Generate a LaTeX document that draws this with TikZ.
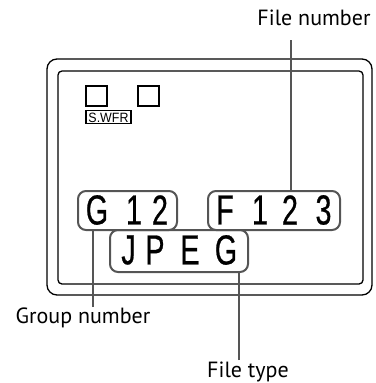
\documentclass[tikz,border=0pt]{standalone}
\usepackage{fontspec}
\setmainfont{PT Sans}
\newfontfamily\lcdfont[FakeStretch=0.68,FakeBold=0.6]{Liberation Sans}
\newfontfamily\smallfont[FakeStretch=0.92]{Liberation Sans}
\definecolor{lcdgray}{RGB}{85,85,85}
\begin{document}
\begin{tikzpicture}[x=1pt,y=-1pt,
  lbl/.style={font=\fontsize{22}{26}\selectfont, inner sep=0},
  lcd/.style={font=\lcdfont\fontsize{42}{42}\selectfont, inner sep=0},
  segbox/.style={draw=lcdgray, line width=2, rounded corners=8, inner sep=0},
  leader/.style={draw=lcdgray, line width=2},
  frame/.style={draw=black, line width=1.3},
  sq/.style={draw=black, line width=1.1, inner sep=0}
]
\useasboundingbox (0,0) rectangle (375,383);
% casing
\draw[frame, rounded corners=10] (47,59) rectangle (372,295);
\draw[frame, rounded corners=4] (58,71) rectangle (363,284);
% indicators
\node[sq, minimum width=21, minimum height=20] (sqa) at (96.5,96) {};
\node[sq, minimum width=21, minimum height=20] (sqb) at (148.5,96) {};
\node[sq, minimum width=45, minimum height=13] (swfr) at (108.5,117) {};
\node[inner sep=0, font=\smallfont\fontsize{13.5}{13.5}\selectfont] (swfrt) at (108.5,117.5) {S.WFR};
% segment boxes
\node[segbox, minimum width=99, minimum height=39] (gbox) at (127.5,210.5) {};
\node[segbox, minimum width=132, minimum height=39] (fbox) at (274,210.5) {};
\node[segbox, minimum width=138, minimum height=42] (jbox) at (179,251) {};
% characters
\node[lcd] (g1) at (97,210) {G};
\node[lcd] (g2) at (134,210) {1};
\node[lcd] (g3) at (160,210) {2};
\node[lcd] (f1) at (225,210) {F};
\node[lcd] (f2) at (260,210) {1};
\node[lcd] (f3) at (290,210) {2};
\node[lcd] (f4) at (323.5,210) {3};
\node[lcd] (j1) at (128.5,250) {J};
\node[lcd] (j2) at (155,250) {P};
\node[lcd] (j3) at (190,250) {E};
\node[lcd] (j4) at (226,250) {G};
% labels
\node[lbl] (lfn) at (314,18) {File number};
\node[lbl] (lgn) at (83,318) {Group number};
\node[lbl] (lft) at (248,372) {File type};
\coordinate (cfn) at (291,40);
\coordinate (cgn) at (93,307);
\coordinate (cft) at (239,360);
\draw[leader] (cfn) -- (cfn |- fbox.north);
\draw[leader] (cgn) -- (cgn |- gbox.south);
\draw[leader] (cft) -- (cft |- jbox.south);
\end{tikzpicture}
\end{document}
